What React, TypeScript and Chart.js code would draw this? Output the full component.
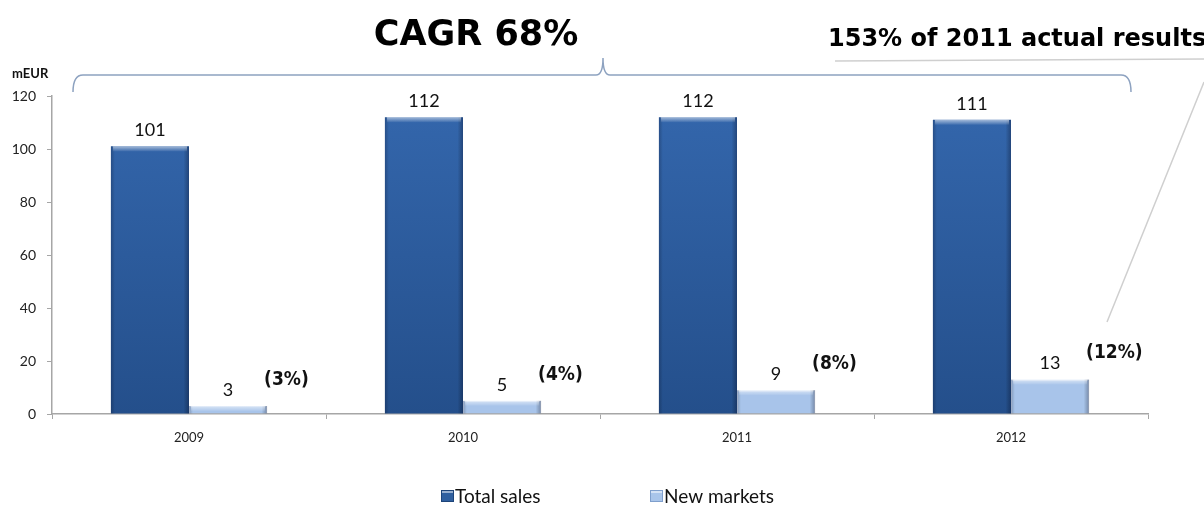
import React, { useEffect, useRef } from "react";
import { Chart, registerables } from "chart.js";

Chart.register(...registerables);

const years = ["2009", "2010", "2011", "2012"];
const totalSales = [101, 112, 112, 111];
const newMarkets = [3, 5, 9, 13];
const newMarketShare = ["(3%)", "(4%)", "(8%)", "(12%)"];
const seriesNames = ["Total sales", "New markets"];
const titleText = "CAGR 68%";
const noteText = "153% of 2011 actual results";
const unitText = "mEUR";

const W = 1204;
const H = 507;

const annotations = {
  id: "annotations",
  afterDatasetsDraw(chart: any) {
    const ctx = chart.ctx;
    ctx.save();
    chart.data.datasets.forEach((ds: any, di: number) => {
      const meta = chart.getDatasetMeta(di);
      meta.data.forEach((bar: any, i: number) => {
        const { x, y, base, width } = bar.getProps(["x", "y", "base", "width"], true);
        const left = x - width / 2;
        const h = base - y;
        const g = ctx.createLinearGradient(left, 0, left + width, 0);
        g.addColorStop(0, "rgba(0,0,20,0.22)");
        g.addColorStop(0.05, "rgba(0,0,0,0)");
        g.addColorStop(0.93, "rgba(0,0,0,0)");
        g.addColorStop(1, "rgba(0,0,20,0.3)");
        ctx.fillStyle = g;
        ctx.fillRect(left, y, width, h);
        const cap = Math.min(5, h);
        const g2 = ctx.createLinearGradient(0, y, 0, y + cap);
        g2.addColorStop(0, "rgba(255,255,255,0.55)");
        g2.addColorStop(1, "rgba(255,255,255,0.05)");
        ctx.fillStyle = g2;
        ctx.fillRect(left + 2, y, width - 4, cap);
        // value label
        ctx.fillStyle = "#111";
        ctx.font = "18px Lato";
        ctx.textAlign = "center";
        ctx.textBaseline = "middle";
        ctx.fillText(String(ds.data[i]), x, y - 16);
      });
    });
    // share labels next to new-market bars
    const meta1 = chart.getDatasetMeta(1);
    ctx.font = "bold 19px 'DejaVu Sans Condensed'";
    ctx.textAlign = "left";
    ctx.textBaseline = "middle";
    ctx.fillStyle = "#111";
    meta1.data.forEach((bar: any, i: number) => {
      const { x, y, width } = bar.getProps(["x", "y", "width"], true);
      ctx.fillText(newMarketShare[i], x + width / 2 - 3, y - 26);
    });
    ctx.restore();
  },
  afterDraw(chart: any) {
    const ctx = chart.ctx;
    ctx.save();
    // title
    ctx.fillStyle = "#000";
    ctx.font = "bold 35px 'DejaVu Sans'";
    ctx.textAlign = "center";
    ctx.textBaseline = "alphabetic";
    ctx.fillText(titleText, 476, 45);
    // note
    ctx.font = "bold 24px 'DejaVu Sans'";
    ctx.textAlign = "left";
    ctx.fillText(noteText, 828, 46);
    // unit
    ctx.font = "bold 13px Lato";
    ctx.fillStyle = "#111";
    ctx.fillText(unitText, 12, 78);
    // gray lines
    ctx.strokeStyle = "#cfcfcf";
    ctx.lineWidth = 1.5;
    ctx.beginPath();
    ctx.moveTo(835, 61);
    ctx.lineTo(1204, 59);
    ctx.stroke();
    ctx.beginPath();
    ctx.moveTo(1204, 82);
    ctx.lineTo(1107, 322);
    ctx.stroke();
    // brace
    ctx.strokeStyle = "#8da2c0";
    ctx.lineWidth = 1.5;
    ctx.beginPath();
    ctx.moveTo(73, 92);
    ctx.quadraticCurveTo(73, 75, 83, 75);
    ctx.lineTo(596, 75);
    ctx.quadraticCurveTo(603, 75, 603, 58);
    ctx.quadraticCurveTo(603, 75, 610, 75);
    ctx.lineTo(1121, 75);
    ctx.quadraticCurveTo(1131, 75, 1131, 92);
    ctx.stroke();
    // legend
    const items = [
      { x: 441, fill: "#2f5f9f", edge: "#1d4479" },
      { x: 650, fill: "#a9c5ea", edge: "#7f9fcc" },
    ];
    ctx.font = "19px Lato";
    ctx.textBaseline = "middle";
    ctx.textAlign = "left";
    items.forEach((it, i) => {
      ctx.fillStyle = it.fill;
      ctx.fillRect(it.x, 490, 13, 12);
      ctx.strokeStyle = it.edge;
      ctx.lineWidth = 1;
      ctx.strokeRect(it.x + 0.5, 490.5, 12, 11);
      ctx.fillStyle = "rgba(255,255,255,0.5)";
      ctx.fillRect(it.x + 1, 491, 11, 2);
      ctx.fillStyle = "#111";
      ctx.fillText(chart.data.datasets[i].label, it.x + 14, 497);
    });
    ctx.restore();
  },
};

export default function App() {
  const ref = useRef<HTMLCanvasElement>(null);
  useEffect(() => {
    document.body.style.margin = "0";
    const canvas = ref.current!;
    const chart = new Chart(canvas, {
      type: "bar",
      data: {
        labels: years,
        datasets: [
          {
            label: seriesNames[0],
            data: totalSales,
            backgroundColor: (c: any) => {
              const ca = c.chart.chartArea;
              if (!ca) return "#2f5f9f";
              const g = c.chart.ctx.createLinearGradient(0, ca.top, 0, ca.bottom);
              g.addColorStop(0, "#3467ad");
              g.addColorStop(1, "#244f8b");
              return g;
            },
            borderWidth: 0,
          },
          {
            label: seriesNames[1],
            data: newMarkets,
            backgroundColor: "#a8c4ea",
            borderColor: "#c3d6f1",
            borderWidth: 1,
          },
        ],
      },
      options: {
        responsive: false,
        animation: false,
        layout: { padding: { top: 96, right: 56, left: 0, bottom: 0 } },
        plugins: { legend: { display: false }, tooltip: { enabled: false }, title: { display: false } },
        datasets: { bar: { categoryPercentage: 0.57, barPercentage: 1.0 } },
        scales: {
          x: {
            afterFit: (axis: any) => {
              axis.height = H - 414;
            },
            grid: { drawOnChartArea: false, drawTicks: true, tickLength: 5, color: "#a6a6a6", offset: true },
            border: { color: "#a6a6a6", width: 1.5 },
            ticks: { color: "#222", font: { family: "Lato", size: 13 }, padding: 11 },
          },
          y: {
            min: 0,
            max: 120,
            afterFit: (axis: any) => {
              axis.width = 52;
            },
            grid: { drawOnChartArea: false, drawTicks: true, tickLength: 5, color: "#a6a6a6" },
            border: { color: "#a6a6a6", width: 1.5 },
            ticks: { stepSize: 20, color: "#222", font: { family: "Lato", size: 14 }, padding: 11 },
          },
        },
      },
      plugins: [annotations],
    } as any);
    return () => chart.destroy();
  }, []);
  return (
    <canvas
      ref={ref}
      width={W}
      height={H}
      style={{ display: "block", position: "fixed", left: 0, top: 0, width: W, height: H }}
    />
  );
}
